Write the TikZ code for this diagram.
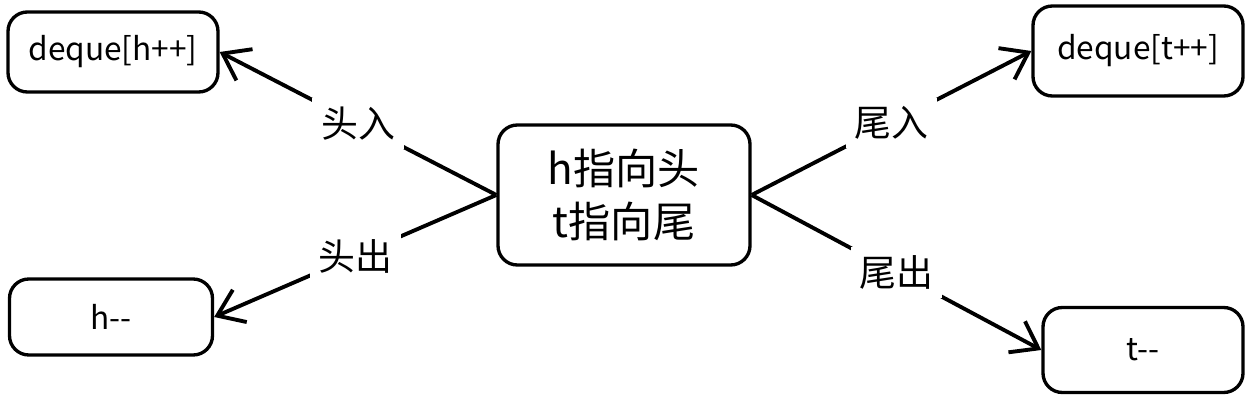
\documentclass[tikz,border=0pt]{standalone}
\usepackage{fontspec}
\setmainfont{Noto Sans CJK SC}
\usetikzlibrary{arrows.meta}
\tikzstyle{box} = [draw, line width=1.9pt, rounded corners=11pt, text centered, inner sep=0pt]
\tikzstyle{label} = [fill=white, inner sep=5pt, font=\fontsize{21}{24}\selectfont]
\tikzset{
  line/.style ={draw, line width=2.2pt, -{Straight Barb[length=14pt, width=20pt, line width=2.2pt]}}
}

\begin{document}
\begin{tikzpicture}[x=0.02cm, y=-0.02cm, every node/.style={align=center}]
  \useasboundingbox (0,0) rectangle (1250,401);
  \node[box, minimum width=252*0.02cm, minimum height=140*0.02cm, font=\fontsize{24}{30}\selectfont] (pointers) at (624,195) {h指向头\\t指向尾};
  \node[box, minimum width=210*0.02cm, minimum height=80*0.02cm, font=\fontsize{18}{20}\selectfont] (head_in) at (113,52) {deque[h++]};
  \node[box, minimum width=203*0.02cm, minimum height=76*0.02cm, font=\fontsize{18}{20}\selectfont] (head_out) at (111,317) {h-{}-};
  \node[box, minimum width=210*0.02cm, minimum height=90*0.02cm, font=\fontsize{18}{20}\selectfont] (tail_in) at (1138,51) {deque[t++]};
  \node[box, minimum width=200*0.02cm, minimum height=85*0.02cm, font=\fontsize{18}{20}\selectfont] (tail_out) at (1143,350) {t-{}-};

  \begin{scope}[every path/.style=line]
    \path (pointers.west) -- node[label] {头入} (head_in.east);
    \path (pointers.west) -- node[label] {头出} (head_out.east);
    \path (pointers.east) -- node[label] {尾入} (tail_in.west);
    \path (pointers.east) -- node[label] {尾出} (tail_out.west);
  \end{scope}

\end{tikzpicture}
\end{document}
